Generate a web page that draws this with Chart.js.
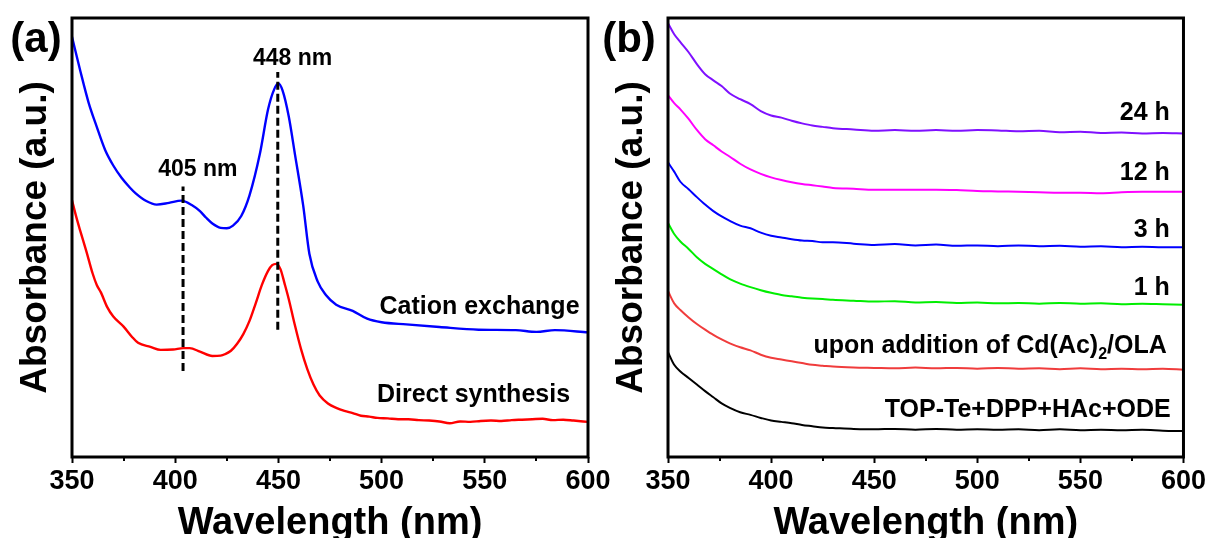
<!DOCTYPE html>
<html>
<head>
<meta charset="utf-8">
<script src="https://cdn.jsdelivr.net/npm/chart.js@4.4.0/dist/chart.umd.min.js"></script>
<style>
  html, body { margin: 0; padding: 0; background: #fff; overflow: hidden; }
  #wrap { position: relative; width: 1208px; height: 538px; overflow: hidden; }
  #panelA { position: absolute; left: 0; top: 0; }
  #panelB { position: absolute; left: 600px; top: 0; }
</style>
</head>
<body>
<div id="wrap">
  <canvas id="panelA" width="630" height="548" style="width:630px;height:548px"></canvas>
  <canvas id="panelB" width="608" height="548" style="width:608px;height:548px"></canvas>
</div>
<script>
// ---- panel (a) data ----
const wlCation = [350, 354, 358, 362, 366, 370, 374, 378, 381, 386, 391, 397, 403, 408, 412, 415, 418, 422, 425, 428, 432, 436, 441, 445,
  448, 450, 452, 455, 458, 462, 465, 469, 473, 478, 486, 493, 500, 512, 528, 547, 565, 575, 584, 600];
const absCation = [0.957, 0.880, 0.808, 0.752, 0.700, 0.664, 0.636, 0.614, 0.600, 0.583, 0.575, 0.579, 0.584, 0.574, 0.560, 0.545, 0.532, 0.522, 0.521, 0.527, 0.549, 0.596, 0.690, 0.792,
  0.838, 0.851, 0.835, 0.776, 0.690, 0.573, 0.463, 0.400, 0.369, 0.347, 0.333, 0.315, 0.307, 0.302, 0.296, 0.290, 0.289, 0.285, 0.289, 0.284];

const wlDirect = [350, 352, 354, 357, 360, 362, 364, 367, 370, 375, 379, 382, 388, 393, 399, 404, 407, 412, 418, 422,
  424, 427, 430, 433, 436, 439, 442, 445, 447, 449, 451, 453, 455, 458, 461,
  464, 467, 470, 474, 478, 482, 486, 490, 494, 498, 503, 508, 513, 518, 523, 528, 533, 538, 543, 548,
  553, 558, 563, 568, 573, 578, 583, 588, 593, 600];
const absDirect = [0.585, 0.548, 0.515, 0.468, 0.418, 0.392, 0.375, 0.342, 0.320, 0.297, 0.274, 0.260, 0.251, 0.244, 0.245, 0.248, 0.248, 0.240, 0.230, 0.231,
  0.234, 0.242, 0.258, 0.280, 0.310, 0.350, 0.392, 0.424, 0.437, 0.440, 0.428, 0.395, 0.360, 0.300, 0.245,
  0.200, 0.165, 0.140, 0.122, 0.112, 0.105, 0.100, 0.094, 0.092, 0.089, 0.088, 0.086, 0.086, 0.084, 0.083, 0.081, 0.077, 0.081, 0.080, 0.082,
  0.083, 0.082, 0.084, 0.085, 0.086, 0.087, 0.084, 0.085, 0.083, 0.080];

// dashed peak markers
const markerWl = [403.8, 449.7];
const markerTop = [0.616, 0.877];
const markerBottom = [0.196, 0.290];

// ---- panel (b) data ----
const wlB = [350, 353, 356, 360, 364, 368, 372, 376, 380, 385, 390, 395, 400, 405, 410, 415, 420, 425, 430, 440,
  450, 460, 470, 480, 490, 500, 510, 520, 530, 540, 550, 560, 570, 580, 590, 600];
const abs24h = [0.988, 0.963, 0.945, 0.922, 0.895, 0.872, 0.858, 0.845, 0.828, 0.815, 0.804, 0.788, 0.778, 0.773, 0.766, 0.760, 0.755, 0.752, 0.749, 0.746,
  0.743, 0.745, 0.743, 0.745, 0.743, 0.745, 0.744, 0.742, 0.743, 0.740, 0.741, 0.738, 0.739, 0.737, 0.738, 0.737];
const abs12h = [0.824, 0.806, 0.792, 0.770, 0.745, 0.724, 0.710, 0.696, 0.684, 0.668, 0.655, 0.645, 0.637, 0.631, 0.626, 0.622, 0.619, 0.616, 0.613, 0.611,
  0.609, 0.609, 0.609, 0.609, 0.608, 0.606, 0.605, 0.604, 0.603, 0.602, 0.602, 0.601, 0.603, 0.604, 0.604, 0.604];
const abs3h = [0.671, 0.650, 0.627, 0.610, 0.592, 0.575, 0.560, 0.548, 0.538, 0.527, 0.521, 0.511, 0.504, 0.500, 0.496, 0.493, 0.492, 0.489, 0.489, 0.486,
  0.483, 0.485, 0.482, 0.484, 0.481, 0.482, 0.480, 0.482, 0.480, 0.481, 0.479, 0.480, 0.478, 0.479, 0.478, 0.478];
const abs1h = [0.533, 0.508, 0.491, 0.474, 0.455, 0.440, 0.428, 0.416, 0.405, 0.395, 0.387, 0.380, 0.374, 0.369, 0.366, 0.363, 0.361, 0.360, 0.358, 0.356,
  0.354, 0.355, 0.352, 0.353, 0.351, 0.352, 0.350, 0.351, 0.349, 0.351, 0.349, 0.350, 0.348, 0.349, 0.348, 0.347];
const absCd = [0.378, 0.350, 0.335, 0.318, 0.303, 0.290, 0.278, 0.268, 0.259, 0.250, 0.243, 0.233, 0.226, 0.222, 0.218, 0.214, 0.210, 0.208, 0.206, 0.204,
  0.203, 0.202, 0.204, 0.202, 0.203, 0.201, 0.203, 0.201, 0.202, 0.200, 0.202, 0.200, 0.201, 0.200, 0.201, 0.199];
const absTop = [0.239, 0.210, 0.195, 0.180, 0.165, 0.150, 0.136, 0.122, 0.112, 0.102, 0.096, 0.089, 0.083, 0.080, 0.077, 0.073, 0.070, 0.067, 0.066, 0.064,
  0.063, 0.064, 0.062, 0.064, 0.062, 0.063, 0.062, 0.063, 0.061, 0.063, 0.061, 0.062, 0.061, 0.062, 0.060, 0.059];

const xTicksMajor = [350, 400, 450, 500, 550, 600];
const xTicksMinor = [375, 425, 475, 525, 575];

const FONT = "'Liberation Sans', Arial, sans-serif";

function pts(xs, ys) {
  return xs.map((x, i) => ({ x: x, y: ys[i] }));
}

function curve(xs, ys, color, width) {
  return {
    data: pts(xs, ys),
    borderColor: color,
    borderWidth: width,
    pointRadius: 0,
    fill: false,
    cubicInterpolationMode: 'monotone'
  };
}

// Frame, minor ticks, panel letter and curve labels
const decorPlugin = {
  id: 'decor',
  afterDraw(chart, args, opts) {
    const { ctx, chartArea: a, scales: { x, y } } = chart;
    ctx.save();
    ctx.strokeStyle = '#000';
    ctx.lineWidth = 3;
    ctx.strokeRect(a.left, a.top, a.right - a.left, a.bottom - a.top);

    ctx.lineWidth = 2;
    xTicksMinor.forEach(v => {
      const px = Math.round(x.getPixelForValue(v));
      ctx.beginPath();
      ctx.moveTo(px, a.bottom);
      ctx.lineTo(px, a.bottom + 4);
      ctx.stroke();
    });

    ctx.fillStyle = '#000';
    ctx.textBaseline = 'middle';
    ctx.textAlign = 'center';
    ctx.font = 'bold 42px ' + FONT;
    ctx.fillText(opts.letter, opts.letterX, 40);

    ctx.textBaseline = 'alphabetic';
    opts.labels.forEach(l => {
      const mainFont = 'bold ' + l.size + 'px ' + FONT;
      const subFont = 'bold ' + Math.round(l.size * 0.62) + 'px ' + FONT;
      let total = 0;
      l.parts.forEach(p => {
        ctx.font = p.sub ? subFont : mainFont;
        total += ctx.measureText(p.t).width;
      });
      let px = x.getPixelForValue(l.x);
      if (l.align === 'right') px -= total;
      else if (l.align === 'center') px -= total / 2;
      const py = y.getPixelForValue(l.y);
      ctx.textAlign = 'left';
      l.parts.forEach(p => {
        ctx.font = p.sub ? subFont : mainFont;
        ctx.fillText(p.t, px, p.sub ? py + l.size * 0.25 : py);
        px += ctx.measureText(p.t).width;
      });
    });
    ctx.restore();
  }
};

function makeOptions(cfg) {
  return {
    responsive: false,
    animation: false,
    events: [],
    layout: { padding: { left: 0, top: 18, right: cfg.padRight, bottom: 0 } },
    plugins: {
      legend: { display: false },
      tooltip: { enabled: false },
      decor: { letter: cfg.letter, letterX: cfg.letterX, labels: cfg.labels }
    },
    scales: {
      x: {
        type: 'linear',
        min: 350,
        max: 600,
        border: { display: false },
        grid: { display: true, drawOnChartArea: false, drawTicks: true, tickLength: 6, tickWidth: 2, tickColor: '#000' },
        afterBuildTicks: s => { s.ticks = xTicksMajor.map(v => ({ value: v })); },
        ticks: {
          color: '#000',
          font: { family: FONT, size: 27, weight: 'bold' },
          padding: 2,
          maxRotation: 0,
          autoSkip: false
        },
        title: {
          display: true,
          text: 'Wavelength (nm)',
          color: '#000',
          font: { family: FONT, size: 38, weight: 'bold' },
          padding: { top: 0, bottom: 2 }
        },
        afterFit: s => { s.height = 91; }
      },
      y: {
        min: 0,
        max: 1,
        border: { display: false },
        grid: { display: false },
        ticks: { display: false },
        title: {
          display: true,
          text: 'Absorbance (a.u.)',
          color: '#000',
          font: { family: FONT, size: 37, weight: 'bold' },
          padding: { top: cfg.yTitlePad, bottom: 0 }
        },
        afterFit: s => { s.width = cfg.yAxisWidth; }
      }
    }
  };
}

// Panel (a)
const dashed = markerWl.map((w, i) => ({
  data: [{ x: w, y: markerBottom[i] }, { x: w, y: markerTop[i] }],
  borderColor: '#000',
  borderWidth: 3,
  borderDash: [8, 4],
  pointRadius: 0,
  tension: 0
}));

new Chart(document.getElementById('panelA').getContext('2d'), {
  type: 'line',
  data: {
    datasets: [
      ...dashed,
      curve(wlCation, absCation, '#0000ff', 2.4),
      curve(wlDirect, absDirect, '#ff0000', 2.4)
    ]
  },
  options: makeOptions({
    padRight: 42, yAxisWidth: 72, yTitlePad: 14, letter: '(a)', letterX: 36,
    labels: [
      { x: 456.9, y: 0.892, size: 23, align: 'center', parts: [{ t: '448 nm' }] },
      { x: 411, y: 0.641, size: 23, align: 'center', parts: [{ t: '405 nm' }] },
      { x: 595.9, y: 0.326, size: 25, align: 'right', parts: [{ t: 'Cation exchange' }] },
      { x: 591.3, y: 0.125, size: 25, align: 'right', parts: [{ t: 'Direct synthesis' }] }
    ]
  }),
  plugins: [decorPlugin]
});

// Panel (b)
new Chart(document.getElementById('panelB').getContext('2d'), {
  type: 'line',
  data: {
    datasets: [
      curve(wlB, abs24h, '#7f10ff', 2),
      curve(wlB, abs12h, '#ff00ff', 2),
      curve(wlB, abs3h, '#0000ff', 2),
      curve(wlB, abs1h, '#00ee00', 2),
      curve(wlB, absCd, '#f03c3c', 2),
      curve(wlB, absTop, '#000000', 2)
    ]
  },
  options: makeOptions({
    padRight: 24, yAxisWidth: 68, yTitlePad: 10, letter: '(b)', letterX: 29,
    labels: [
      { x: 593.4, y: 0.767, size: 25, align: 'right', parts: [{ t: '24 h' }] },
      { x: 593.4, y: 0.630, size: 25, align: 'right', parts: [{ t: '12 h' }] },
      { x: 593.4, y: 0.502, size: 25, align: 'right', parts: [{ t: '3 h' }] },
      { x: 593.4, y: 0.369, size: 25, align: 'right', parts: [{ t: '1 h' }] },
      { x: 591.9, y: 0.237, size: 25, align: 'right', parts: [{ t: 'upon addition of Cd(Ac)' }, { t: '2', sub: true }, { t: '/OLA' }] },
      { x: 593.8, y: 0.091, size: 25, align: 'right', parts: [{ t: 'TOP-Te+DPP+HAc+ODE' }] }
    ]
  }),
  plugins: [decorPlugin]
});
</script>
</body>
</html>
